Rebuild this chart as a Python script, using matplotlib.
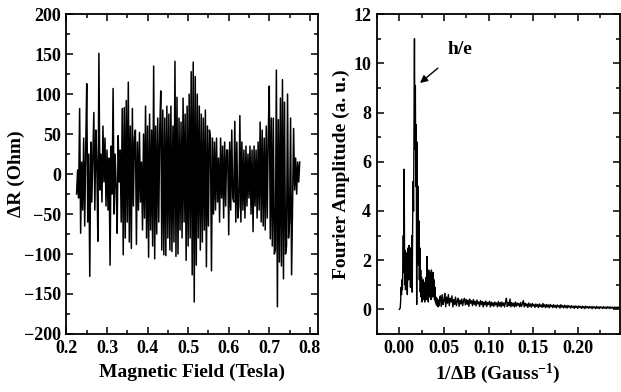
import numpy as np
import matplotlib
matplotlib.use("Agg")
import matplotlib.pyplot as plt
from matplotlib.ticker import MultipleLocator

# ---------------- data ----------------
# Left panel: magnetoresistance oscillations, sampled every 0.0025 T from 0.225 T
field_start = 0.225
field_step = 0.0025
delta_r = [
    -25, 5, -30, 82, -74, 15, -45, 45, -65, 30,
    113, -60, 25, -128, 40, -35, 20, 77, -45, 55,
    10, -84, 151, -20, 25, -35, 60, -10, 45, -40,
    30, -45, 20, -114, 35, -25, 107, -50, 25, -15,
    -74, 48, -10, 30, -60, 82, -101, 83, -80, 92,
    -60, 115, -85, 60, -93, 82, -40, 45, 55, -88,
    40, -45, 52, -35, 15, -70, 50, -55, 85, -80,
    60, -104, 75, -70, 55, -90, 135, -106, 60, -75,
    70, -60, 55, 104, -95, 80, -101, 70, -102, 85,
    -80, 75, -95, 85, -97, 60, -85, 141, -103, 96,
    -100, 70, -70, 65, -80, 95, -60, 75, -108, 85,
    -90, 100, -80, 128, -126, 140, -160, 122, -114, 100,
    -80, 85, -95, 75, -85, 70, -70, 80, -116, 60,
    -65, 55, 45, -121, 45, -50, 40, -45, 45, -35,
    20, -60, 45, -30, 35, -55, 40, -40, 30, 30,
    -76, 40, -45, 55, -30, -35, 66, -60, 40, -55,
    -40, 73, -60, 40, -45, 30, -55, 35, -40, 25,
    -30, 35, -50, 30, -72, 35, -40, 30, -55, 40,
    -45, 65, -60, 55, -65, 45, -70, 60, -55, 50,
    110, -81, 70, -90, 70, -100, -95, 130, -166, 68,
    -110, 95, -115, 118, -131, 90, -100, -90, 100, -80,
    -60, 70, -126, -30, 57, -20, 20, -25, 15, -10, 15,
]

# Right panel: Fourier amplitude
# dense part: 0 to 0.045 Gauss^-1, step 0.0005
fft_dense_start = 0.0
fft_dense_step = 0.0005
fft_dense = [
    0.0, 0.02, 0.05, 0.3, 0.9, 0.6, 1.2, 0.8, 2.0, 3.0,
    1.5, 5.7, 1.0, 2.4, 0.8, 1.9, 1.1, 2.3, 0.6, 1.8,
    2.5, 1.2, 2.6, 1.4, 2.2, 0.9, 2.5, 1.5, 3.0, 0.7,
    3.6, 5.2, 4.0, 7.4, 11.0, 6.5, 9.1, 5.0, 7.5, 0.2,
    6.8, 3.0, 5.0, 1.8, 3.6, 1.2, 2.5, 0.7, 1.6, 0.5,
    1.3, 0.3, 1.0, 0.6, 1.2, 0.4, 0.9, 0.3, 1.1, 0.5,
    1.3, 0.4, 2.15, 0.6, 1.4, 0.3, 1.6, 0.5, 1.3, 0.7,
    1.5, 0.4, 1.6, 0.6, 1.4, 0.5, 1.5, 0.8, 1.2, 0.4,
    0.9, 0.3, 0.5, 0.2, 0.45, 0.15, 0.4, 0.1, 0.35, 0.15,
    0.4,
]
# tail: 0.046 to 0.246 Gauss^-1, step 0.001
fft_tail_start = 0.046
fft_tail_step = 0.001
fft_tail = [
    0.55, 0.12, 0.6, 0.2, 0.35, 0.65, 0.1, 0.5, 0.25, 0.6,
    0.15, 0.45, 0.3, 0.55, 0.1, 0.4, 0.2, 0.5, 0.15, 0.35,
    0.45, 0.12, 0.38, 0.22, 0.42, 0.15, 0.35, 0.45, 0.18, 0.4,
    0.2, 0.38, 0.12, 0.42, 0.25, 0.35, 0.15, 0.4, 0.2, 0.33,
    0.14, 0.38, 0.22, 0.3, 0.12, 0.36, 0.2, 0.32, 0.1, 0.3,
    0.18, 0.34, 0.12, 0.28, 0.2, 0.33, 0.1, 0.3, 0.15, 0.27,
    0.12, 0.3, 0.18, 0.26, 0.1, 0.32, 0.14, 0.28, 0.1, 0.3,
    0.15, 0.26, 0.1, 0.3, 0.45, 0.12, 0.28, 0.15, 0.42, 0.1,
    0.28, 0.14, 0.25, 0.1, 0.3, 0.12, 0.26, 0.16, 0.24, 0.1,
    0.28, 0.12, 0.22, 0.35, 0.1, 0.25, 0.14, 0.22, 0.08, 0.26,
    0.12, 0.22, 0.09, 0.24, 0.14, 0.2, 0.08, 0.22, 0.12, 0.2,
    0.07, 0.22, 0.12, 0.18, 0.08, 0.24, 0.1, 0.19, 0.07, 0.2,
    0.1, 0.18, 0.06, 0.2, 0.11, 0.17, 0.07, 0.19, 0.09, 0.16,
    0.06, 0.18, 0.1, 0.16, 0.05, 0.19, 0.09, 0.15, 0.06, 0.17,
    0.08, 0.15, 0.05, 0.16, 0.09, 0.14, 0.05, 0.15, 0.08, 0.13,
    0.04, 0.14, 0.07, 0.13, 0.04, 0.14, 0.08, 0.12, 0.04, 0.13,
    0.06, 0.12, 0.03, 0.13, 0.07, 0.11, 0.04, 0.12, 0.06, 0.11,
    0.03, 0.12, 0.06, 0.1, 0.03, 0.12, 0.05, 0.1, 0.03, 0.11,
    0.06, 0.1, 0.03, 0.11, 0.05, 0.09, 0.03, 0.11, 0.05, 0.1,
    0.03, 0.1, 0.05, 0.09, 0.02, 0.1, 0.05, 0.09, 0.03, 0.1,
    0.05,
]

left_xticks = [0.2, 0.3, 0.4, 0.5, 0.6, 0.7, 0.8]
left_yticks = [-200, -150, -100, -50, 0, 50, 100, 150, 200]
right_xticks = [0.00, 0.05, 0.10, 0.15, 0.20]
right_yticks = [0, 2, 4, 6, 8, 10, 12]

# ---------------- plotting ----------------
plt.rcParams['font.family'] = ['Liberation Serif', 'DejaVu Serif']
plt.rcParams['font.weight'] = 'bold'
plt.rcParams['mathtext.fontset'] = 'custom'
plt.rcParams['mathtext.rm'] = 'Liberation Serif:bold'
plt.rcParams['mathtext.default'] = 'rm'

field = field_start + field_step * np.arange(len(delta_r))
fft_x = np.concatenate([
    fft_dense_start + fft_dense_step * np.arange(len(fft_dense)),
    fft_tail_start + fft_tail_step * np.arange(len(fft_tail)),
])
fft_y = np.array(fft_dense + fft_tail)

fig = plt.figure(figsize=(6.21, 3.92), dpi=100)
ax1 = fig.add_axes([0.107, 0.148, 0.405, 0.816])
ax2 = fig.add_axes([0.6066, 0.148, 0.3914, 0.816])

ax1.plot(field, delta_r, color='black', lw=1.1)
ax1.set_xlim(0.2, 0.82)
ax1.set_ylim(-200, 200)
ax1.set_xticks(left_xticks)
ax1.set_xticklabels([f"{t:.1f}" for t in left_xticks])
ax1.set_yticks(left_yticks)
ax1.xaxis.set_minor_locator(MultipleLocator(0.05))
ax1.yaxis.set_minor_locator(MultipleLocator(25))
ax1.set_xlabel('Magnetic Field (Tesla)', fontsize=14, fontweight='bold')
ax1.set_ylabel('ΔR (Ohm)', fontsize=14, fontweight='bold')
ax1.xaxis.set_label_coords(0.5, -0.092)
ax1.yaxis.set_label_coords(-0.165, 0.5)

ax2.plot(fft_x, fft_y, color='black', lw=1.0)
ax2.set_xlim(-0.0253, 0.247)
ax2.set_ylim(-1, 12)
ax2.set_xticks(right_xticks)
ax2.set_xticklabels([f"{t:.2f}" for t in right_xticks])
ax2.set_yticks(right_yticks)
ax2.xaxis.set_minor_locator(MultipleLocator(0.025))
ax2.yaxis.set_minor_locator(MultipleLocator(1))
ax2.set_xlabel('1/ΔB (Gauss$^{-1}$)', fontsize=14, fontweight='bold')
ax2.set_ylabel('Fourier Amplitude (a. u.)', fontsize=14, fontweight='bold')
ax2.xaxis.set_label_coords(0.5, -0.088)
ax2.yaxis.set_label_coords(-0.11, 0.5)
ax2.annotate('h/e', xy=(0.0232, 9.2), xytext=(0.068, 10.55),
             fontsize=14, fontweight='bold', ha='center', va='center',
             arrowprops=dict(arrowstyle='-|>', color='black', lw=1.0,
                             shrinkA=8, shrinkB=0, mutation_scale=11))

for ax in (ax1, ax2):
    for sp in ax.spines.values():
        sp.set_linewidth(1.3)
    ax.tick_params(which='both', direction='in', top=True, right=True,
                   labelsize=13, width=1.1, pad=4)
    ax.tick_params(which='major', length=5)
    ax.tick_params(which='minor', length=3)
    for lab in ax.get_xticklabels() + ax.get_yticklabels():
        lab.set_fontweight('bold')

fig.savefig('out.png', dpi=100)
